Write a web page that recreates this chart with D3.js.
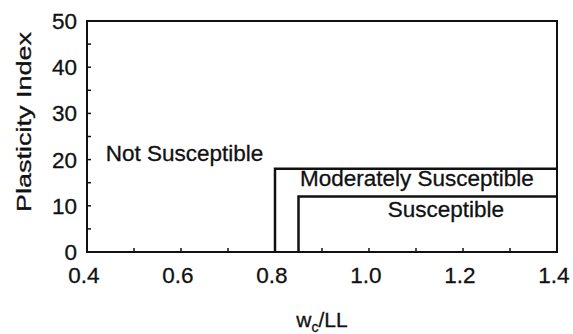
<!DOCTYPE html>
<html>
<head>
  <meta charset="utf-8">
  <script src="https://cdn.jsdelivr.net/npm/d3@7"></script>
  <style>
body { margin: 0; background: #fff; }
svg { font-family: "Liberation Sans", Arial, sans-serif; }
.frame { fill: none; stroke: #111; stroke-width: 2px; }
.zone { fill: none; stroke: #111; stroke-width: 2.5px; }
.tick-label { font-size: 22.5px; fill: #111; stroke: #111; stroke-width: 0.3px; }
.zone-label { font-size: 22.5px; fill: #111; stroke: #111; stroke-width: 0.3px; }
.axis-title { font-size: 21px; fill: #111; stroke: #111; stroke-width: 0.3px; }
  </style>
</head>
<body>
  <svg width="573" height="334"></svg>
  <script>

// axis ranges and ticks
const xDomain = [0.4, 1.4],
      yDomain = [0, 50];
const xTicks = [0.4, 0.6, 0.8, 1.0, 1.2, 1.4],
      xMinor = [0.5, 0.6, 0.7, 0.8, 0.9, 1.0, 1.1, 1.2, 1.3];
const yTicks = [0, 10, 20, 30, 40, 50],
      yMinor = [5, 10, 15, 20, 25, 30, 35, 40, 45];

// zone boundaries: [w/LL start, PI upper]
const zoneBounds = [[0.80, 18], [0.85, 12]];

// zone labels: text, x (w/LL), y (PI) of baseline
const zoneNames = ["Not Susceptible", "Moderately Susceptible", "Susceptible"],
      zoneX = [0.44, 0.853, 1.04],
      zoneY = [19.7, 14.2, 7.5];

const margin = {top: 21, right: 16, bottom: 82, left: 87};

var svg = d3.select("svg"),
    width = +svg.attr("width"),
    height = +svg.attr("height");

var x = d3.scaleLinear().domain(xDomain).range([margin.left, width - margin.right]),
    y = d3.scaleLinear().domain(yDomain).range([height - margin.bottom, margin.top]);

// minor/major ticks, pointing inward
svg.append("g")
   .selectAll("line")
   .data(xMinor)
   .enter().append("line")
   .attr("x1", d => x(d)).attr("x2", d => x(d))
   .attr("y1", y(0)).attr("y2", y(0) - 4)
   .attr("stroke", "#111").attr("stroke-width", 1.5);

svg.append("g")
   .selectAll("line")
   .data(yMinor)
   .enter().append("line")
   .attr("x1", x(0.4)).attr("x2", x(0.4) + 4)
   .attr("y1", d => y(d)).attr("y2", d => y(d))
   .attr("stroke", "#111").attr("stroke-width", 1.5);

svg.append("rect")
   .attr("class", "frame")
   .attr("x", x(xDomain[0]))
   .attr("y", y(yDomain[1]))
   .attr("width", x(xDomain[1]) - x(xDomain[0]))
   .attr("height", y(yDomain[0]) - y(yDomain[1]));

// tick labels
svg.append("g")
   .selectAll("text")
   .data(xTicks)
   .enter().append("text")
   .attr("class", "tick-label")
   .attr("x", d => x(d) - 3)
   .attr("y", y(0) + 31)
   .attr("text-anchor", "middle")
   .text(d => d.toFixed(1));

svg.append("g")
   .selectAll("text")
   .data(yTicks)
   .enter().append("text")
   .attr("class", "tick-label")
   .attr("x", x(0.4) - 10)
   .attr("y", d => y(d) + 8)
   .attr("text-anchor", "end")
   .text(d => d);

// zone boundaries
var line = d3.line().x(d => x(d[0])).y(d => y(d[1]));

svg.append("g")
   .selectAll("path")
   .data(zoneBounds)
   .enter().append("path")
   .attr("class", "zone")
   .attr("d", d => line([[d[0], 0], [d[0], d[1]], [xDomain[1], d[1]]]));

svg.append("g")
   .selectAll("text")
   .data(zoneNames)
   .enter().append("text")
   .attr("class", "zone-label")
   .attr("x", (d, i) => x(zoneX[i]))
   .attr("y", (d, i) => y(zoneY[i]))
   .text(d => d);

// axis titles
var xt = svg.append("text")
   .attr("class", "axis-title")
   .attr("x", (x(xDomain[0]) + x(xDomain[1])) / 2)
   .attr("y", 327)
   .attr("text-anchor", "middle");
xt.append("tspan").text("w");
xt.append("tspan").attr("font-size", "14px").attr("dy", 5).text("c");
xt.append("tspan").attr("dy", -5).text("/LL");

svg.append("text")
   .attr("class", "axis-title")
   .attr("transform", `translate(31,122) rotate(-90)`)
   .attr("text-anchor", "middle")
   .attr("textLength", 180)
   .attr("lengthAdjust", "spacingAndGlyphs")
   .text("Plasticity Index");

</script>
</body>
</html>
